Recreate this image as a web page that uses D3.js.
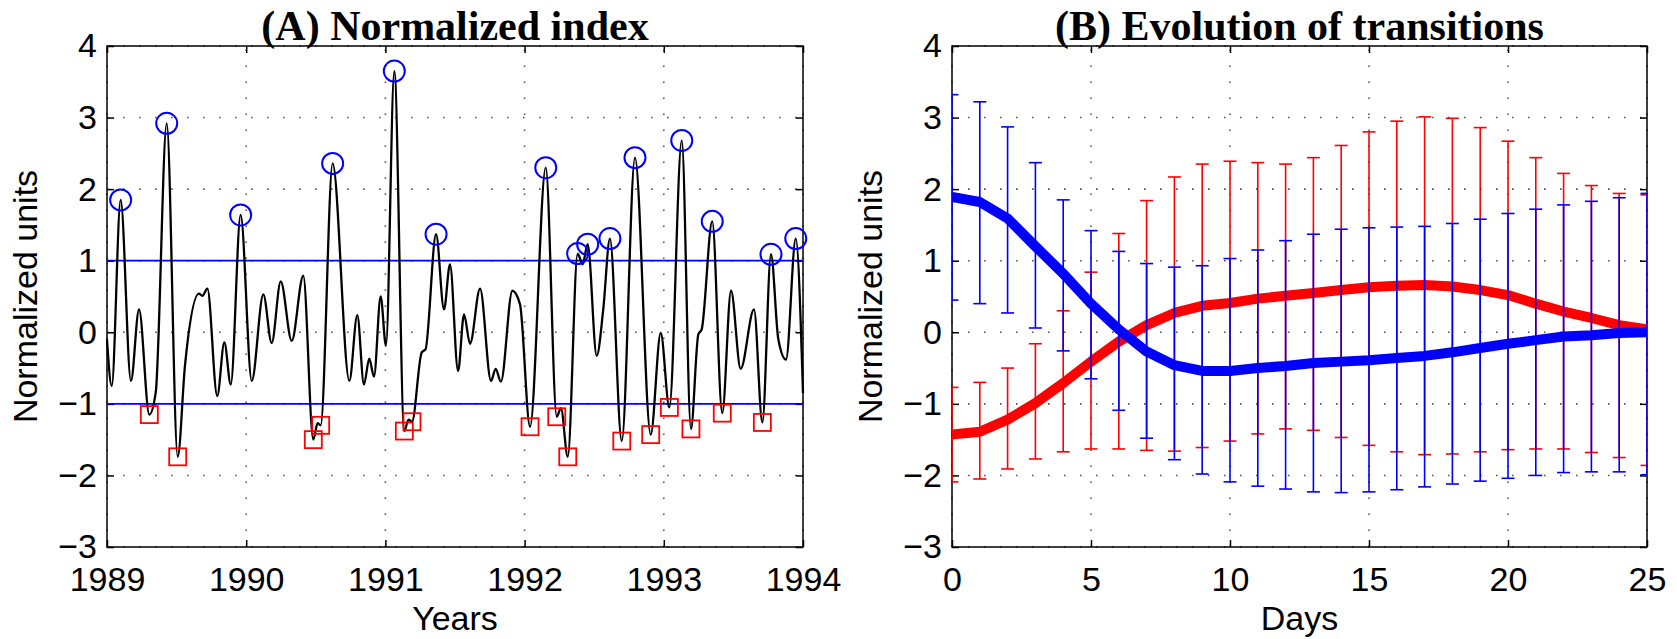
<!DOCTYPE html>
<html>
<head>
<meta charset="utf-8">
<script src="https://cdn.jsdelivr.net/npm/d3@7.9.0/dist/d3.min.js"></script>
<style>
  body { margin: 0; background: #fff; }
  svg { display: block; }
  text { font-family: "Liberation Sans", Arial, sans-serif; }
</style>
</head>
<body>
<svg id="chart" width="1677" height="639"></svg>
<script>
// ---- panel A : normalized index (time, value) ----
const indexYears = [
  1989.000, 1989.034, 1989.098, 1989.172, 1989.230, 1989.304, 1989.350, 1989.429, 1989.508, 1989.560,
  1989.661, 1989.685, 1989.721, 1989.792, 1989.843, 1989.889, 1989.960, 1990.040, 1990.123, 1990.183,
  1990.248, 1990.327, 1990.410, 1990.482, 1990.513, 1990.535, 1990.621, 1990.741, 1990.798, 1990.846,
  1990.884, 1990.918, 1990.966, 1991.004, 1991.064, 1991.136, 1991.166, 1991.191, 1991.261, 1991.288,
  1991.364, 1991.421, 1991.464, 1991.522, 1991.565, 1991.608, 1991.680, 1991.759, 1991.792, 1991.830,
  1991.912, 1991.967, 1992.039, 1992.152, 1992.231, 1992.261, 1992.310, 1992.381, 1992.417, 1992.453,
  1992.518, 1992.565, 1992.613, 1992.698, 1992.793, 1992.906, 1992.978, 1993.040, 1993.129, 1993.195,
  1993.248, 1993.272, 1993.348, 1993.420, 1993.483, 1993.552, 1993.648, 1993.708, 1993.770, 1993.823,
  1993.878, 1993.948, 1994.000
];
const indexValues = [
  -0.10, -0.75, 1.85, -0.68, 0.32, -1.15, -0.84, 2.92, -1.74, -0.47,
  0.54, 0.51, 0.61, -0.89, -0.14, -0.73, 1.64, -0.68, 0.53, -0.15,
  0.71, -0.12, 0.79, -1.50, -1.27, -1.30, 2.36, -0.68, 0.24, -0.73,
  -0.37, -0.62, 0.50, -0.19, 3.65, -1.38, -1.22, -1.25, -0.28, -0.24,
  1.37, 0.32, 0.95, -0.54, 0.25, -0.16, 0.61, -0.68, -0.51, -0.69,
  0.58, 0.39, -1.32, 2.30, -1.18, -1.06, -1.74, 1.10, 0.95, 1.23,
  -0.33, 0.32, 1.31, -1.52, 2.44, -1.43, -0.01, -1.05, 2.68, -1.35,
  -0.03, 0.04, 1.55, -1.13, 0.58, -0.51, 0.32, -1.26, 1.09, -0.10,
  -0.38, 1.31, -0.85
];
const peakYears = [1989.098, 1989.429, 1989.960, 1990.621, 1991.064, 1991.364, 1992.152, 1992.381,
  1992.453, 1992.613, 1992.793, 1993.129, 1993.348, 1993.770, 1993.948];
const peakValues = [1.85, 2.92, 1.64, 2.36, 3.65, 1.37, 2.30, 1.10, 1.23, 1.31, 2.44, 2.68, 1.55, 1.09, 1.31];
const troughYears = [1989.304, 1989.508, 1990.482, 1990.535, 1991.136, 1991.191, 1992.039, 1992.231,
  1992.310, 1992.698, 1992.906, 1993.040, 1993.195, 1993.420, 1993.708];
const troughValues = [-1.15, -1.74, -1.50, -1.30, -1.38, -1.25, -1.32, -1.18, -1.74, -1.52, -1.43, -1.05, -1.35, -1.13, -1.26];
const thresholds = [1, -1];
const yearTicks = [1989, 1990, 1991, 1992, 1993, 1994];
const unitTicks = [-3, -2, -1, 0, 1, 2, 3, 4];

// ---- panel B : evolution of transitions ----
const days = [0,1,2,3,4,5,6,7,8,9,10,11,12,13,14,15,16,17,18,19,20,21,22,23,24,25];
const blueMean = [1.89, 1.82, 1.59, 1.20, 0.82, 0.40, 0.04, -0.27, -0.46, -0.54, -0.54, -0.50, -0.47,
  -0.43, -0.41, -0.39, -0.36, -0.33, -0.28, -0.22, -0.16, -0.11, -0.06, -0.04, -0.01, 0.00];
const blueHigh = [3.32, 3.22, 2.87, 2.37, 1.85, 1.42, 1.13, 0.96, 0.91, 0.93, 1.03, 1.15, 1.28,
  1.37, 1.44, 1.46, 1.47, 1.48, 1.52, 1.58, 1.66, 1.72, 1.78, 1.83, 1.88, 1.94];
const blueLow = [0.45, 0.40, 0.27, 0.06, -0.26, -0.65, -1.09, -1.48, -1.78, -1.98, -2.09, -2.15, -2.19,
  -2.23, -2.24, -2.23, -2.20, -2.16, -2.12, -2.08, -2.04, -2.00, -1.96, -1.95, -1.95, -1.99];
const redMean = [-1.43, -1.39, -1.22, -0.99, -0.71, -0.41, -0.13, 0.10, 0.27, 0.37, 0.41, 0.47, 0.51,
  0.55, 0.59, 0.63, 0.65, 0.66, 0.64, 0.59, 0.52, 0.40, 0.29, 0.20, 0.10, 0.04];
const redHigh = [-0.77, -0.70, -0.50, -0.16, 0.30, 0.84, 1.38, 1.84, 2.17, 2.35, 2.39, 2.37, 2.35,
  2.44, 2.61, 2.80, 2.95, 3.01, 2.99, 2.86, 2.67, 2.44, 2.22, 2.05, 1.94, 1.92];
const redLow = [-2.09, -2.05, -1.91, -1.77, -1.67, -1.63, -1.63, -1.65, -1.66, -1.61, -1.52, -1.42, -1.35,
  -1.37, -1.47, -1.58, -1.67, -1.71, -1.70, -1.67, -1.64, -1.63, -1.63, -1.68, -1.75, -1.86];
const dayTicks = [0, 5, 10, 15, 20, 25];

const svg = d3.select('#chart');
svg.append('rect').attr('width', 1677).attr('height', 639).attr('fill', '#fff');

const plotTop = 46, plotBottom = 547;
const y = d3.scaleLinear().domain([-3, 4]).range([plotBottom, plotTop]);

// common frame: grid, ticks on four sides, labels
function drawFrame(g, x, xTicks, title, xLabel) {
  const [x0, x1] = x.range();
  const grid = g.append('g').attr('stroke', '#555').attr('stroke-width', 1.6).attr('stroke-dasharray', '1.6,14.4');
  xTicks.forEach(t => {
    grid.append('line').attr('x1', x(t)).attr('x2', x(t)).attr('y1', plotBottom).attr('y2', plotTop);
  });
  unitTicks.forEach(t => {
    grid.append('line').attr('x1', x0).attr('x2', x1).attr('y1', y(t)).attr('y2', y(t));
  });

  const fmt = d => d3.format('d')(d);
  const styleAxis = a => {
    a.selectAll('text').attr('font-size', 34).attr('fill', '#000')
      .style('font-family', '"Liberation Sans", Arial, sans-serif');
    a.selectAll('line').attr('stroke', '#000').attr('stroke-width', 1.5);
    a.select('.domain').remove();
  };
  g.append('g').attr('transform', `translate(0,${plotBottom})`)
    .call(d3.axisBottom(x).tickValues(xTicks).tickFormat(fmt).tickSize(-7).tickPadding(20))
    .call(styleAxis);
  g.append('g').attr('transform', `translate(0,${plotTop})`)
    .call(d3.axisTop(x).tickValues(xTicks).tickFormat('').tickSize(-7))
    .call(styleAxis);
  g.append('g').attr('transform', `translate(${x0},0)`)
    .call(d3.axisLeft(y).tickValues(unitTicks).tickFormat(fmt).tickSize(-7).tickPadding(10))
    .call(styleAxis);
  g.append('g').attr('transform', `translate(${x1},0)`)
    .call(d3.axisRight(y).tickValues(unitTicks).tickFormat('').tickSize(-7))
    .call(styleAxis);

  g.append('rect').attr('x', x0).attr('y', plotTop).attr('width', x1 - x0).attr('height', plotBottom - plotTop)
    .attr('fill', 'none').attr('stroke', '#000').attr('stroke-width', 1.5);

  const cx = (x0 + x1) / 2;
  g.append('text').attr('x', cx).attr('y', 40).attr('text-anchor', 'middle')
    .style('font-family', '"Liberation Serif", "Times New Roman", serif')
    .attr('font-weight', 'bold').attr('font-size', 42).text(title);
  g.append('text').attr('x', cx).attr('y', 630).attr('text-anchor', 'middle')
    .attr('font-size', 34).text(xLabel);
  g.append('text').attr('transform', `translate(${x0 - 70},${(plotTop + plotBottom) / 2}) rotate(-90)`)
    .attr('text-anchor', 'middle').attr('font-size', 34).text('Normalized units');
}

// ---- panel A ----
const xA = d3.scaleLinear().domain([1989, 1994]).range([107, 803]);
const gA = svg.append('g');
drawFrame(gA, xA, yearTicks, '(A) Normalized index', 'Years');

gA.selectAll('line.thr').data(thresholds).join('line')
  .attr('class', 'thr')
  .attr('x1', xA(1989)).attr('x2', xA(1994))
  .attr('y1', d => y(d)).attr('y2', d => y(d))
  .attr('stroke', '#0000ff').attr('stroke-width', 1.8);

const indexData = indexYears.map((t, i) => [t, indexValues[i]]);
gA.append('path')
  .datum(indexData)
  .attr('fill', 'none').attr('stroke', '#000').attr('stroke-width', 2.3)
  .attr('d', d3.line().x(d => xA(d[0])).y(d => y(d[1])).curve(d3.curveMonotoneX));

gA.selectAll('circle.peak').data(peakYears).join('circle')
  .attr('class', 'peak')
  .attr('cx', d => xA(d)).attr('cy', (d, i) => y(peakValues[i]))
  .attr('r', 10.5).attr('fill', 'none').attr('stroke', '#0000ff').attr('stroke-width', 2);

const sq = 17;
gA.selectAll('rect.trough').data(troughYears).join('rect')
  .attr('class', 'trough')
  .attr('x', d => xA(d) - sq / 2).attr('y', (d, i) => y(troughValues[i]) - sq / 2)
  .attr('width', sq).attr('height', sq)
  .attr('fill', 'none').attr('stroke', '#ff0000').attr('stroke-width', 1.8);

// ---- panel B ----
const xB = d3.scaleLinear().domain([0, 25]).range([952, 1647]);
const gB = svg.append('g');
svg.append('clipPath').attr('id', 'clipB').append('rect')
  .attr('x', 952).attr('y', plotTop).attr('width', 1647 - 952).attr('height', plotBottom - plotTop);

drawFrame(gB, xB, dayTicks, '(B) Evolution of transitions', 'Days');

const plotB = gB.append('g').attr('clip-path', 'url(#clipB)');

function errorSeries(mean, low, high, color) {
  const cap = 6.5;
  const bars = plotB.append('g').attr('stroke', color).attr('stroke-width', 1.6).attr('fill', 'none');
  days.forEach((d, i) => {
    const px = xB(d);
    bars.append('line').attr('x1', px).attr('x2', px).attr('y1', y(low[i])).attr('y2', y(high[i]));
    bars.append('line').attr('x1', px - cap).attr('x2', px + cap).attr('y1', y(low[i])).attr('y2', y(low[i]));
    bars.append('line').attr('x1', px - cap).attr('x2', px + cap).attr('y1', y(high[i])).attr('y2', y(high[i]));
  });
  plotB.append('path')
    .datum(days.map((d, i) => [d, mean[i]]))
    .attr('fill', 'none').attr('stroke', color).attr('stroke-width', 10)
    .attr('stroke-linejoin', 'round')
    .attr('d', d3.line().x(d => xB(d[0])).y(d => y(d[1])));
}

errorSeries(redMean, redLow, redHigh, '#ff0000');
errorSeries(blueMean, blueLow, blueHigh, '#0000ff');
</script>
</body>
</html>
